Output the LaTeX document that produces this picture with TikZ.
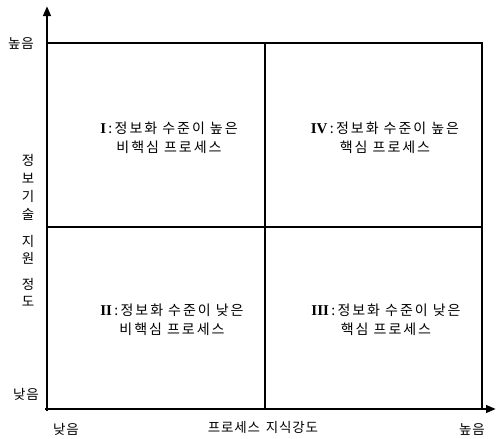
\documentclass[tikz,border=0pt]{standalone}
\usepackage{fontspec}
\setmainfont{Noto Sans CJK KR}
\newfontfamily\kosp[LetterSpace=14]{Noto Sans CJK KR}
\newfontfamily\kolb[LetterSpace=6]{Noto Sans CJK KR}
\newfontfamily\numfont{Liberation Serif}
\usetikzlibrary{arrows.meta}
\begin{document}
\begin{tikzpicture}[x=1pt,y=-1pt,
  axisline/.style={line width=2.8pt,-{Triangle[length=10pt,width=7.5pt]}},
  gridline/.style={line width=1.7pt},
  lbl/.style={font=\kolb\fontsize{13.5}{15}\selectfont,inner sep=0pt},
  quad/.style={font=\kosp\fontsize{14}{19}\selectfont,align=center,inner sep=0pt}]
\useasboundingbox (0,0) rectangle (496,439);
\coordinate (O) at (47,409);
\coordinate (ytip) at (47,6);
\coordinate (xtip) at (496,409);
\coordinate (TL) at (47,43);
\coordinate (TR) at (482,43);
\coordinate (BR) at (482,409);
\coordinate (TM) at (265,43);
\coordinate (BM) at (265,409);
\coordinate (ML) at (47,227);
\coordinate (MR) at (482,227);
\draw[gridline] (TL) -- (TR) -- (BR);
\draw[gridline] (TM) -- (BM);
\draw[gridline] (ML) -- (MR);
\draw[axisline] ([yshift=-2pt]O) -- (ytip);
\draw[axisline] ([xshift=-2pt]O) -- (xtip);
\node[lbl] (yhigh) at (21,43) {높음};
\node[lbl] (ylow) at (26,394) {낮음};
\node[lbl] (v1) at (28,160) {정};
\node[lbl] (v2) at (28,178) {보};
\node[lbl] (v3) at (28,196) {기};
\node[lbl] (v4) at (28,214) {술};
\node[lbl] (v5) at (28,241) {지};
\node[lbl] (v6) at (28,258) {원};
\node[lbl] (v7) at (28,284) {정};
\node[lbl] (v8) at (28,301) {도};
\node[lbl] (xlow) at (66,429) {낮음};
\node[lbl] (xtitle) at (263,427) {프로세스\hspace{2pt} 지식강도};
\node[lbl] (xhigh) at (472,429) {높음};
\node[quad] (q1) at (169,137.5) {{\numfont\bfseries\fontsize{15}{19}\selectfont I}\,:\,정보화 수준이 높은\\비핵심 프로세스};
\node[quad] (q4) at (385,137.5) {{\numfont\bfseries\fontsize{15}{19}\selectfont IV}\,:\,정보화 수준이 높은\\핵심 프로세스};
\node[quad] (q2) at (172,319.5) {{\numfont\bfseries\fontsize{15}{19}\selectfont II}\,:\,정보화 수준이 낮은\\비핵심 프로세스};
\node[quad] (q3) at (386,319.5) {{\numfont\bfseries\fontsize{15}{19}\selectfont III}\,:\,정보화 수준이 낮은\\핵심 프로세스};
\end{tikzpicture}
\end{document}
